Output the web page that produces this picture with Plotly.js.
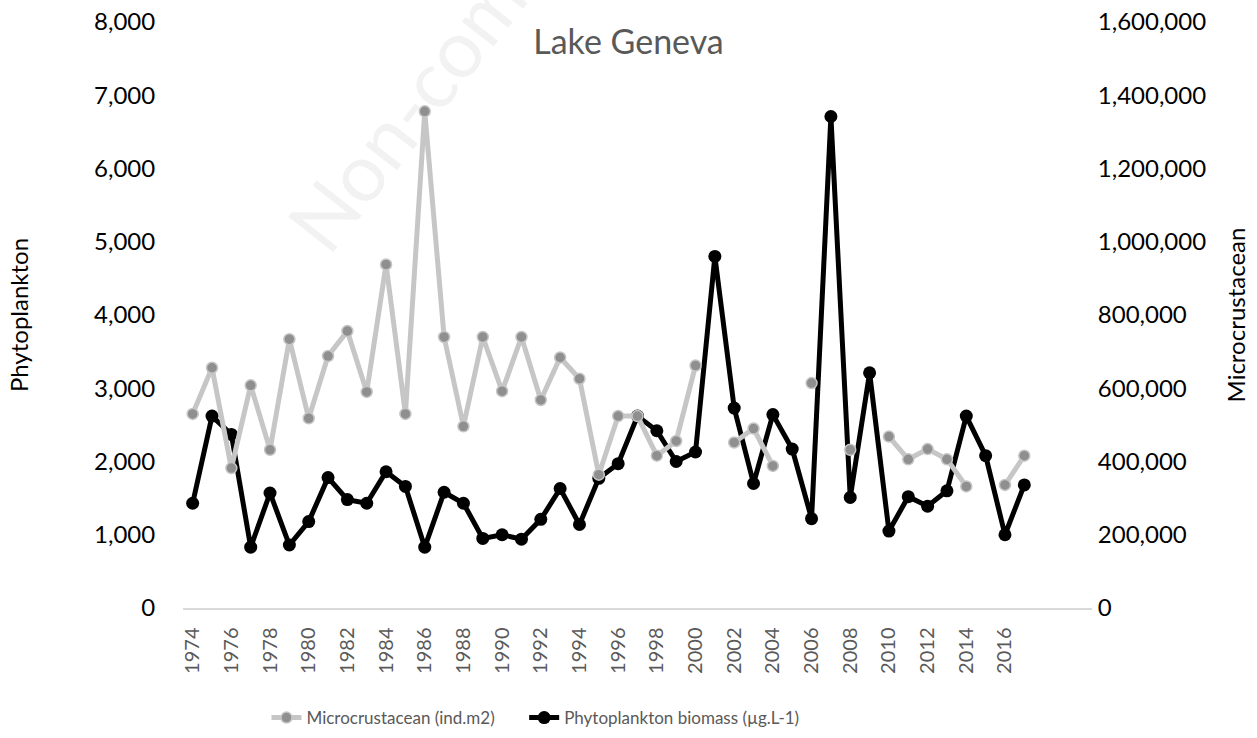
<!DOCTYPE html>
<html>
<head>
<meta charset="utf-8">
<script src="https://cdn.plot.ly/plotly-3.0.1.min.js"></script>
<style>html,body{margin:0;padding:0;background:#fff;}#chart{width:1257px;height:738px;}</style>
</head>
<body>
<div id="chart"></div>
<script>
const years = [1974,1975,1976,1977,1978,1979,1980,1981,1982,1983,
  1984,1985,1986,1987,1988,1989,1990,1991,1992,1993,
  1994,1995,1996,1997,1998,1999,2000,2001,2002,2003,
  2004,2005,2006,2007,2008,2009,2010,2011,2012,2013,
  2014,2015,2016,2017];

// Phytoplankton biomass (µg.L-1), left axis
const phytoplankton = [1430,2620,2370,830,1570,860,1180,1780,1480,1430,
  1860,1660,830,1580,1430,950,1000,940,1210,1630,
  1140,1770,1970,2620,2420,2000,2130,4800,2730,1700,
  2640,2170,1220,6710,1510,3210,1050,1520,1390,1600,
  2620,2080,1000,1680];

// Microcrustacean (ind.m2), right axis
const microcrustacean = [530000,656000,382000,608000,432000,734000,518000,688000,756000,590000,
  938000,530000,1356000,740000,496000,740000,592000,740000,568000,684000,
  626000,364000,524000,524000,416000,456000,662000,null,452000,490000,
  388000,null,614000,null,432000,null,468000,406000,434000,406000,
  332000,null,336000,416000];

const xTickVals = [1974,1976,1978,1980,1982,1984,1986,1988,1990,1992,1994,1996,1998,2000,2002,2004,2006,2008,2010,2012,2014,2016];
const leftTicks = [0,1000,2000,3000,4000,5000,6000,7000,8000];
const rightTicks = [0,200000,400000,600000,800000,1000000,1200000,1400000,1600000];

const FONT = 'Lato, "Open Sans", sans-serif';

const traces = [
  {
    x: years, y: microcrustacean, yaxis: 'y2', type: 'scatter', mode: 'lines+markers',
    name: 'Microcrustacean (ind.m2)', connectgaps: false, legend: 'legend',
    line: {color: '#c6c6c6', width: 5},
    marker: {color: '#8f8f8f', size: 11, line: {color: '#c6c6c6', width: 1.5}}
  },
  {
    x: years, y: phytoplankton, yaxis: 'y', type: 'scatter', mode: 'lines+markers',
    name: 'Phytoplankton biomass (µg.L-1)', legend: 'legend2',
    line: {color: '#000000', width: 5},
    marker: {color: '#000000', size: 13}
  }
];

const legendCommon = {
  orientation: 'h', xref: 'container', yref: 'container', xanchor: 'left',
  y: 0.027, yanchor: 'middle',
  font: {family: FONT, size: 17, color: '#595959'}, bgcolor: 'rgba(0,0,0,0)'
};

const layout = {
  width: 1257, height: 738,
  margin: {l: 183, r: 165, t: 22, b: 130},
  paper_bgcolor: '#ffffff', plot_bgcolor: '#ffffff',
  font: {family: FONT, color: '#000000'},
  showlegend: true,
  title: {text: 'Lake Geneva', x: 0.5, xanchor: 'center', y: 0.943, yanchor: 'middle',
    font: {family: FONT, size: 34, color: '#595959'}},
  xaxis: {
    range: [1973.5, 2020.5], tickmode: 'array', tickvals: xTickVals,
    ticktext: xTickVals.map(String), tickangle: -90,
    tickfont: {family: FONT, size: 20, color: '#595959'},
    showgrid: false, zeroline: false, showline: true, linecolor: '#d9d9d9', linewidth: 1.5,
    ticks: 'outside', ticklen: 10, tickcolor: 'rgba(0,0,0,0)'
  },
  yaxis: {
    range: [0, 8000], tickmode: 'array', tickvals: leftTicks, tickformat: ',d',
    tickfont: {family: FONT, size: 24, color: '#000000'},
    showgrid: false, zeroline: false, showline: false,
    ticks: 'outside', ticklen: 22, tickcolor: 'rgba(0,0,0,0)',
    title: {text: 'Phytoplankton', font: {family: FONT, size: 24, color: '#000000'}, standoff: 58}
  },
  yaxis2: {
    range: [0, 1600000], overlaying: 'y', side: 'right', tickmode: 'array', tickvals: rightTicks,
    tickformat: ',d', tickfont: {family: FONT, size: 24, color: '#000000'},
    showgrid: false, zeroline: false, showline: false,
    ticks: 'outside', ticklen: 0, tickcolor: 'rgba(0,0,0,0)',
    title: {text: 'Microcrustacean', font: {family: FONT, size: 24, color: '#000000'}, standoff: 22}
  },
  legend: Object.assign({}, legendCommon, {x: 0.212}),
  legend2: Object.assign({}, legendCommon, {x: 0.417}),
  annotations: [
    {text: 'Non-commercial', xref: 'paper', yref: 'paper', x: 0.33, y: 1.02,
     xanchor: 'center', yanchor: 'middle', showarrow: false, textangle: -52,
     font: {family: FONT, size: 80, color: 'rgba(0,0,0,0.05)'}}
  ]
};

Plotly.newPlot('chart', traces, layout, {displayModeBar: false, staticPlot: true});
</script>
</body>
</html>
